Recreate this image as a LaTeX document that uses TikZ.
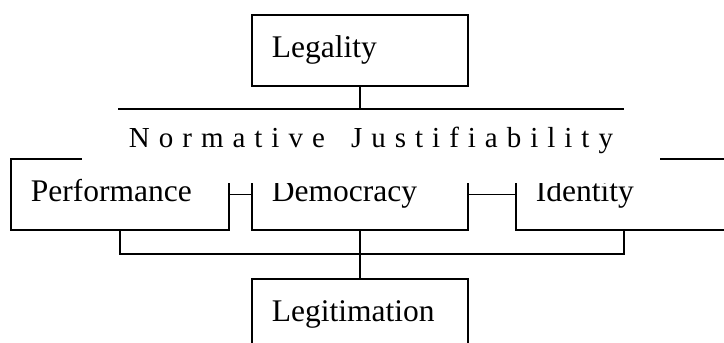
\documentclass[tikz,border=0pt]{standalone}
\usepackage{fontspec}
\setmainfont{Liberation Serif}
\newfontfamily\spacedfont[LetterSpace=31]{Liberation Serif}
\usetikzlibrary{positioning}

\begin{document}
\begin{tikzpicture}[x=1pt, y=-1pt, line width=1.8pt,
  box/.style={draw, anchor=north west, minimum height=71pt, inner xsep=20pt,
    align=left, text height=22pt, text depth=8pt,
    font=\fontsize{31.5}{36}\selectfont}]
  \useasboundingbox (0,0) rectangle (724,343);
  \clip (0,0) rectangle (724,343);
  \node[box, text width=176pt] (legal) at (251,14) {Legality};
  \node[box, text width=178pt] (perf) at (10,158) {Performance};
  \node[box, text width=176pt] (demo) at (251,158) {Democracy};
  \node[box, text width=176pt] (ident) at (515,158) {Identity};
  \node[box, text width=176pt, minimum height=72pt] (legit) at (251,278) {Legitimation};
  \coordinate (njl) at (118,109);
  \coordinate (njr) at (624,109);
  \coordinate (bus) at (359,254);
  \draw (njl) -- (njr);
  \draw (legal.south) -- (legal.south |- njl);
  % white band with the spaced caption over the box tops
  \node[fill=white, inner sep=0pt, minimum width=578pt, text height=34pt,
    text depth=36pt, font=\spacedfont\fontsize{29}{32}\selectfont] (norm)
    at (371,148) {Normative \hspace{10pt}Justifiability};
  \draw (perf.east) -- (demo.west);
  \draw (demo.east) -- (ident.west);
  \draw (perf.south) |- (bus) -| (ident.south);
  \draw (demo.south) -- (legit.north);
\end{tikzpicture}
\end{document}
